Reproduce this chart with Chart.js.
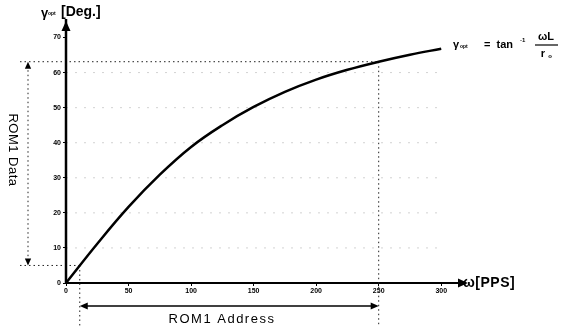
<!DOCTYPE html>
<html>
<head>
<meta charset="utf-8">
<script src="https://cdn.jsdelivr.net/npm/chart.js@4.4.0/dist/chart.umd.min.js"></script>
<style>
  html, body { margin: 0; padding: 0; background: #fff; }
  #wrap { width: 566px; height: 327px; position: relative; }
</style>
</head>
<body>
<div id="wrap"><canvas id="chart" width="566" height="327"></canvas></div>
<script>
/* ===============================
   DATA
================================*/
const omega = [0, 25, 50, 75, 100, 125, 150, 175, 200, 225, 250, 275, 300];
const gammaOpt = [0, 11.2, 21.7, 30.9, 38.8, 45.0, 50.2, 54.5, 58, 60.8, 63.1, 65.1, 66.8];
const xTicks = [0, 50, 100, 150, 200, 250, 300];
const yTicks = [0, 10, 20, 30, 40, 50, 60, 70];

// ROM1 limits (dotted guides)
const romData = [5, 63.1];
const romAddr = [11, 250];

/* ===============================
   EXTRA DRAWING (guides, arrows, labels)
================================*/
function arrowHead(ctx, x, y, dir, size) {
    // dir: angle in radians the arrow points to
    ctx.save();
    ctx.translate(x, y);
    ctx.rotate(dir);
    ctx.beginPath();
    ctx.moveTo(0, 0);
    ctx.lineTo(-size, -size * 0.45);
    ctx.lineTo(-size, size * 0.45);
    ctx.closePath();
    ctx.fill();
    ctx.restore();
}

const extras = {
    id: 'extras',
    beforeDatasetsDraw(chart) {
        const ctx = chart.ctx;
        const xs = chart.scales.x, ys = chart.scales.y;
        const area = chart.chartArea;
        ctx.save();

        // faint dotted grid
        ctx.strokeStyle = 'rgba(0,0,0,0.18)';
        ctx.lineWidth = 1;
        ctx.setLineDash([2, 7]);
        yTicks.slice(1, -1).forEach(v => {
            const y = ys.getPixelForValue(v);
            ctx.beginPath();
            ctx.moveTo(area.left, y);
            ctx.lineTo(xs.getPixelForValue(300), y);
            ctx.stroke();
        });

        // ROM guides
        ctx.strokeStyle = '#222';
        ctx.setLineDash([1.5, 3]);
        const yHi = ys.getPixelForValue(romData[1]);
        const yLo = ys.getPixelForValue(romData[0]);
        const xLo = xs.getPixelForValue(romAddr[0]);
        const xHi = xs.getPixelForValue(romAddr[1]);
        ctx.beginPath();
        ctx.moveTo(20, yHi); ctx.lineTo(xHi, yHi);
        ctx.moveTo(xHi, yHi); ctx.lineTo(xHi, 327);
        ctx.moveTo(20, yLo); ctx.lineTo(xLo, yLo);
        ctx.moveTo(xLo, yLo); ctx.lineTo(xLo, 327);
        // ROM1 Data arrow shaft (dotted)
        ctx.moveTo(28, yHi + 4); ctx.lineTo(28, yLo - 4);
        ctx.stroke();
        ctx.setLineDash([]);

        ctx.fillStyle = '#000';
        arrowHead(ctx, 28, yHi, -Math.PI / 2, 7);
        arrowHead(ctx, 28, yLo, Math.PI / 2, 7);

        // ROM1 Address arrow (solid)
        const ya = 306;
        ctx.strokeStyle = '#000';
        ctx.lineWidth = 1.5;
        ctx.beginPath();
        ctx.moveTo(xLo + 4, ya); ctx.lineTo(xHi - 4, ya);
        ctx.stroke();
        arrowHead(ctx, xLo, ya, Math.PI, 8);
        arrowHead(ctx, xHi, ya, 0, 8);

        ctx.restore();
    },
    afterDraw(chart) {
        const ctx = chart.ctx;
        const area = chart.chartArea;
        ctx.save();
        ctx.fillStyle = '#000';

        // axis arrows
        arrowHead(ctx, area.left, area.top - 6, -Math.PI / 2, 10);
        arrowHead(ctx, area.right + 8, area.bottom, 0, 10);
        ctx.strokeStyle = '#000';
        ctx.lineWidth = 2.5;
        ctx.beginPath();
        ctx.moveTo(area.left, area.bottom); ctx.lineTo(area.left, area.top - 8);
        ctx.stroke();
        ctx.lineWidth = 2;
        ctx.beginPath();
        ctx.moveTo(area.right, area.bottom); ctx.lineTo(area.right + 2, area.bottom);
        ctx.stroke();

        // axis titles
        ctx.textBaseline = 'middle';
        ctx.textAlign = 'left';
        ctx.font = 'bold 13px "Liberation Sans", Arial, sans-serif';
        ctx.fillText('γ', 41, 13);
        ctx.font = 'bold 5px "Liberation Sans", Arial, sans-serif';
        ctx.fillText('opt', 48, 14);
        ctx.font = 'bold 14px "Liberation Sans", Arial, sans-serif';
        ctx.fillText('[Deg.]', 61, 12);

        if ('letterSpacing' in ctx) ctx.letterSpacing = '0.5px';
        ctx.font = 'bold 14px "Liberation Sans", Arial, sans-serif';
        ctx.fillText('ω[PPS]', 463, area.bottom);
        if ('letterSpacing' in ctx) ctx.letterSpacing = '0px';

        // formula
        const fy = 45;
        ctx.font = 'bold 11px "Liberation Sans", Arial, sans-serif';
        ctx.fillText('γ', 453, fy);
        ctx.font = 'bold 5px "Liberation Sans", Arial, sans-serif';
        ctx.fillText('opt', 460, fy + 2);
        ctx.font = 'bold 11px "Liberation Sans", Arial, sans-serif';
        ctx.fillText('=  tan', 484, fy);
        ctx.font = 'bold 6px "Liberation Sans", Arial, sans-serif';
        ctx.fillText('-1', 520, fy - 5);
        ctx.font = 'bold 11px "Liberation Sans", Arial, sans-serif';
        ctx.textAlign = 'center';
        ctx.fillText('ωL', 546, fy - 8);
        ctx.fillText('r', 543, fy + 9);
        ctx.font = 'bold 6px "Liberation Sans", Arial, sans-serif';
        ctx.fillText('o', 550, fy + 11);
        ctx.lineWidth = 1.2;
        ctx.beginPath();
        ctx.moveTo(535, fy); ctx.lineTo(558, fy);
        ctx.stroke();

        // ROM labels
        ctx.font = '13px "Liberation Sans", Arial, sans-serif';
        ctx.textAlign = 'center';
        if ('letterSpacing' in ctx) ctx.letterSpacing = '1.5px';
        ctx.fillText('ROM1 Address', 222, 319);
        if ('letterSpacing' in ctx) ctx.letterSpacing = '0.5px';
        ctx.save();
        ctx.translate(13, 150);
        ctx.rotate(Math.PI / 2);
        ctx.fillText('ROM1 Data', 0, 0);
        ctx.restore();

        ctx.restore();
    }
};

/* ===============================
   CHART
================================*/
const ctx = document.getElementById('chart');

new Chart(ctx, {
    type: 'line',
    data: {
        datasets: [{
            data: omega.map((w, i) => ({ x: w, y: gammaOpt[i] })),
            borderColor: '#000',
            borderWidth: 2.5,
            pointRadius: 0,
            tension: 0.4,
            fill: false
        }]
    },
    options: {
        responsive: false,
        animation: false,
        devicePixelRatio: 1,
        layout: { padding: { top: 27, right: 106, left: 0, bottom: 0 } },
        plugins: { legend: { display: false }, tooltip: { enabled: false } },
        scales: {
            x: {
                type: 'linear',
                min: 0, max: 315,
                afterBuildTicks: s => { s.ticks = xTicks.map(v => ({ value: v })); },
                afterFit: s => { s.height = 44; },
                border: { color: '#000', width: 2 },
                grid: { drawOnChartArea: false, color: '#000', tickLength: 3 },
                ticks: {
                    color: '#000',
                    padding: 1,
                    autoSkip: false,
                    maxRotation: 0,
                    font: { size: 7, weight: 'bold', family: '"Liberation Sans", Arial, sans-serif' }
                }
            },
            y: {
                min: 0, max: 73,
                afterBuildTicks: s => { s.ticks = yTicks.map(v => ({ value: v })); },
                afterFit: s => { s.width = 66; },
                border: { color: '#000', width: 2 },
                grid: { drawOnChartArea: false, color: '#000', tickLength: 3 },
                ticks: {
                    color: '#000',
                    padding: 2,
                    autoSkip: false,
                    font: { size: 7, weight: 'bold', family: '"Liberation Sans", Arial, sans-serif' }
                }
            }
        }
    },
    plugins: [extras]
});
</script>
</body>
</html>
